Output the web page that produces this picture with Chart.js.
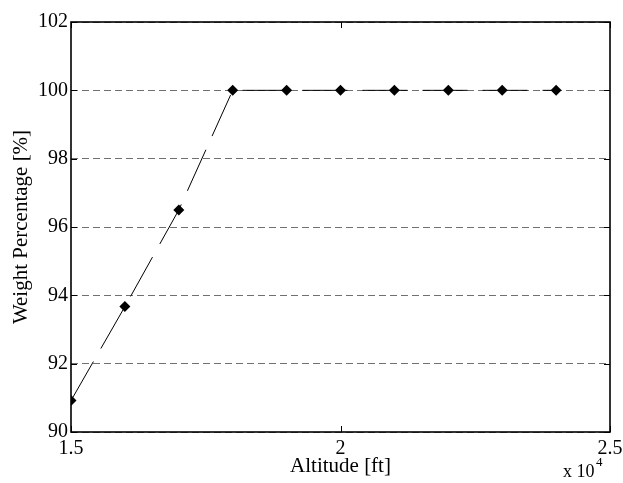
<!DOCTYPE html>
<html>
<head>
<meta charset="utf-8">
<script src="https://cdn.jsdelivr.net/npm/chart.js@4/dist/chart.umd.min.js"></script>
<style>
  html, body { margin: 0; padding: 0; background: #fff; }
  #wrap { width: 623px; height: 483px; }
</style>
</head>
<body>
<div id="wrap"><canvas id="chart" width="623" height="483"></canvas></div>
<script>
const altitude = [15000, 16000, 17000, 18000, 19000, 20000, 21000, 22000, 23000, 24000];
const weightPct = [90.92, 93.67, 96.5, 100, 100, 100, 100, 100, 100, 100];
const xTicks = [15000, 20000, 25000];
const xTickLabels = ['1.5', '2', '2.5'];
const yTicks = [90, 92, 94, 96, 98, 100, 102];

const serif = "'Liberation Serif', 'Times New Roman', serif";

// box, inward ticks and the exponent note
const boxPlugin = {
  id: 'box',
  afterDraw(chart) {
    const {ctx, chartArea: a, scales} = chart;
    ctx.save();
    ctx.strokeStyle = '#000';
    ctx.lineWidth = 1.6;
    ctx.setLineDash([]);
    ctx.strokeRect(a.left, a.top, a.right - a.left, a.bottom - a.top);
    ctx.lineWidth = 1;
    ctx.beginPath();
    xTicks.forEach(v => {
      const px = Math.round(scales.x.getPixelForValue(v)) + 0.5;
      ctx.moveTo(px, a.bottom); ctx.lineTo(px, a.bottom - 6);
      ctx.moveTo(px, a.top); ctx.lineTo(px, a.top + 6);
    });
    yTicks.forEach(v => {
      const py = Math.round(scales.y.getPixelForValue(v)) + 0.5;
      ctx.moveTo(a.left, py); ctx.lineTo(a.left + 6, py);
      ctx.moveTo(a.right, py); ctx.lineTo(a.right - 6, py);
    });
    ctx.stroke();
    ctx.fillStyle = '#000';
    ctx.font = '18px ' + serif;
    ctx.textBaseline = 'alphabetic';
    ctx.textAlign = 'left';
    ctx.fillText('x 10', 563, 477);
    ctx.font = '13px ' + serif;
    ctx.fillText('4', 596, 466);
    ctx.restore();
  }
};

new Chart(document.getElementById('chart'), {
  type: 'scatter',
  data: {
    datasets: [{
      data: altitude.map((x, i) => ({x: x, y: weightPct[i]})),
      showLine: true,
      borderColor: '#000',
      borderWidth: 1,
      borderDash: [45, 15],
      pointStyle: 'rectRot',
      pointRadius: 5.5,
      pointBackgroundColor: '#000',
      pointBorderColor: '#000',
      pointBorderWidth: 0
    }]
  },
  options: {
    responsive: false,
    animation: false,
    layout: { padding: { top: 22, right: 13, left: 0, bottom: 0 } },
    plugins: { legend: { display: false }, tooltip: { enabled: false } },
    scales: {
      x: {
        type: 'linear',
        min: 15000,
        max: 25000,
        afterBuildTicks: axis => { axis.ticks = xTicks.map(v => ({value: v})); },
        afterFit: axis => {
          axis.height = 51;
          axis.paddingLeft = 0;
          axis.paddingRight = 0;
        },
        grid: { display: false, drawTicks: false },
        border: { display: false },
        ticks: {
          padding: 5,
          color: '#000',
          font: { family: serif, size: 20 },
          maxRotation: 0,
          callback: v => xTickLabels[xTicks.indexOf(v)]
        },
        title: {
          display: true,
          text: 'Altitude [ft]',
          color: '#000',
          font: { family: serif, size: 21 },
          padding: { top: 0, bottom: 4 }
        }
      },
      y: {
        min: 90,
        max: 102,
        afterFit: axis => {
          axis.width = 71;
          axis.paddingTop = 0;
          axis.paddingBottom = 0;
        },
        grid: { color: '#707070', lineWidth: 1, drawTicks: false },
        border: { display: false, dash: [7, 4] },
        ticks: {
          stepSize: 2,
          padding: 3,
          color: '#000',
          font: { family: serif, size: 20 }
        },
        title: {
          display: true,
          text: 'Weight Percentage [%]',
          color: '#000',
          font: { family: serif, size: 21 },
          padding: { top: 9, bottom: 0 }
        }
      }
    }
  },
  plugins: [boxPlugin]
});
</script>
</body>
</html>
